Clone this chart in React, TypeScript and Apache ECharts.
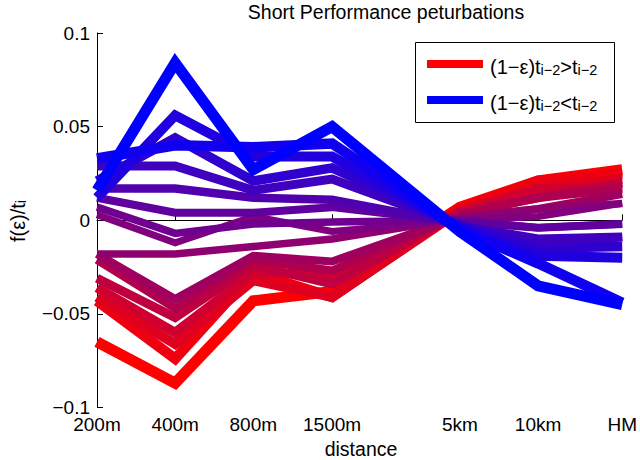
import React, { useEffect, useRef } from 'react';
import * as echarts from 'echarts';

// x categories (distance) and their lengths in metres (axis is log2 of distance)
const DISTANCE_LABELS = ['200m', '400m', '800m', '1500m', '5km', '10km', 'HM'];
const DISTANCE_METERS = [200, 400, 800, 1609, 5000, 10000, 21097.5];

// y axis
const Y_MIN = -0.1;
const Y_MAX = 0.1;
const Y_STEP = 0.05;

// perturbation curves, ordered from blue (1-e)t<t to red (1-e)t>t
// values at: 200m, 400m, 800m, 1500m, 5km, 10km, HM
const line01 = [0.016, 0.084, 0.027, 0.050, -0.006, -0.035, -0.045];
const line02 = [0.033, 0.040, 0.039, 0.041, -0.005, -0.023, -0.044];
const line03 = [0.012, 0.056, 0.034, 0.034, -0.004, -0.019, -0.020];
const line04 = [0.021, 0.044, 0.021, 0.028, -0.003, -0.015, -0.014];
const line05 = [0.029, 0.029, 0.016, 0.022, -0.003, -0.010, -0.009];
const line06 = [0.017, 0.017, 0.012, 0.011, -0.002, -0.014, -0.009];
const line07 = [0.012, 0.004, 0.004, 0.007, -0.001, -0.004, -0.002];
const line08 = [0.007, -0.007, -0.002, -0.001, 0.000, -0.004, -0.002];
const line09 = [0.003, -0.012, 0.002, -0.006, 0.000, 0.002, 0.009];
const line10 = [-0.018, -0.018, -0.014, -0.010, 0.001, 0.006, 0.009];
const line11 = [-0.018, -0.042, -0.019, -0.022, 0.002, 0.006, 0.014];
const line12 = [-0.021, -0.047, -0.021, -0.027, 0.003, 0.012, 0.017];
const line13 = [-0.031, -0.052, -0.024, -0.034, 0.004, 0.012, 0.020];
const line14 = [-0.036, -0.060, -0.028, -0.029, 0.004, 0.017, 0.017];
const line15 = [-0.041, -0.066, -0.032, -0.041, 0.005, 0.017, 0.022];
const line16 = [-0.043, -0.074, -0.028, -0.041, 0.006, 0.021, 0.025];
const line17 = [-0.065, -0.087, -0.043, -0.038, 0.007, 0.021, 0.027];

const LINES = [
  line01, line02, line03, line04, line05, line06, line07, line08, line09,
  line10, line11, line12, line13, line14, line15, line16, line17,
];

const TITLE = 'Short Performance peturbations';
const X_NAME = 'distance';

const FONT = '"Liberation Sans", Arial, Helvetica, sans-serif';

export default function App() {
  const ref = useRef<HTMLDivElement>(null);

  useEffect(() => {
    if (!ref.current) return;
    const chart = echarts.init(ref.current, null, { renderer: 'svg' });
    const xPos = DISTANCE_METERS.map((d) => Math.log2(d / DISTANCE_METERS[0]));
    const n = LINES.length;

    const series = LINES.map((vals, i) => {
      const t = i / (n - 1);
      const r = Math.round(255 * t);
      const b = Math.round(255 * (1 - t));
      return {
        type: 'line',
        data: vals.map((v, k) => [xPos[k], v]),
        symbol: 'none',
        silent: true,
        clip: true,
        lineStyle: {
          color: `rgb(${r},0,${b})`,
          width: 7 + 4 * Math.abs(2 * t - 1),
          join: 'miter',
          cap: 'butt',
        },
      };
    }).reverse();

    const richMain = { fontSize: 20, fontFamily: FONT, lineHeight: 20, verticalAlign: 'top' };
    const richSub = { fontSize: 14.5, fontFamily: FONT, lineHeight: 14, verticalAlign: 'bottom', padding: [8, 0, 0, 0] };

    const option = {
      animation: false,
      backgroundColor: '#fff',
      grid: { left: 97, right: 14.5, top: 33, bottom: 52.5, containLabel: false },
      xAxis: {
        type: 'value',
        min: 0,
        max: xPos[xPos.length - 1],
        axisLine: { show: true, lineStyle: { color: '#000', width: 1 } },
        axisTick: { show: true, inside: true, length: 6, customValues: xPos, lineStyle: { color: '#000' } },
        axisLabel: {
          customValues: xPos,
          color: '#000',
          fontSize: 19,
          lineHeight: 14,
          fontFamily: FONT,
          margin: 10,
          formatter: (v: number) => {
            const k = xPos.findIndex((p) => Math.abs(p - v) < 1e-6);
            return k >= 0 ? DISTANCE_LABELS[k] : '';
          },
        },
        splitLine: { show: false },
      },
      yAxis: {
        type: 'value',
        min: Y_MIN,
        max: Y_MAX,
        interval: Y_STEP,
        axisLine: { show: true, lineStyle: { color: '#000', width: 1 } },
        axisTick: { show: true, inside: true, length: 6, lineStyle: { color: '#000' } },
        axisLabel: {
          color: '#000',
          fontSize: 19,
          lineHeight: 14,
          fontFamily: FONT,
          margin: 7,
          formatter: (v: number) => {
            if (Math.abs(v) < 1e-9) return '0';
            return String(+v.toFixed(2)).replace('-', '\u2212');
          },
        },
        splitLine: { show: false },
      },
      series,
      graphic: [
        {
          type: 'text', x: 386, y: 12, z: 100,
          style: { text: TITLE, fontSize: 19.5, fontFamily: FONT, fill: '#000', align: 'center', verticalAlign: 'middle' },
        },
        {
          type: 'text', x: 361, y: 449, z: 100,
          style: { text: X_NAME, fontSize: 19.5, fontFamily: FONT, fill: '#000', align: 'center', verticalAlign: 'middle' },
        },
        {
          type: 'text', x: 18, y: 221, rotation: Math.PI / 2, z: 100,
          style: {
            text: '{m|f(\u03b5)/t}{s|i}', fill: '#000', align: 'center', verticalAlign: 'middle',
            rich: { m: richMain, s: richSub },
          },
        },
        {
          type: 'group', z: 100,
          children: [
            {
              type: 'rect', z: 100,
              shape: { x: 415.5, y: 42.5, width: 199, height: 80 },
              style: { fill: '#fff', stroke: '#000', lineWidth: 1 },
            },
            {
              type: 'line', z: 101,
              shape: { x1: 427, y1: 64, x2: 483, y2: 64 },
              style: { stroke: 'rgb(255,0,0)', lineWidth: 8 },
            },
            {
              type: 'line', z: 101,
              shape: { x1: 427, y1: 100, x2: 483, y2: 100 },
              style: { stroke: 'rgb(0,0,255)', lineWidth: 8 },
            },
            {
              type: 'text', x: 490, y: 67, z: 101,
              style: {
                text: '{m|(1\u2212\u03b5)t}{s|i\u22122}{m|>t}{s|i\u22122}', fill: '#000', align: 'left', verticalAlign: 'middle',
                rich: { m: richMain, s: richSub },
              },
            },
            {
              type: 'text', x: 490, y: 103, z: 101,
              style: {
                text: '{m|(1\u2212\u03b5)t}{s|i\u22122}{m|<t}{s|i\u22122}', fill: '#000', align: 'left', verticalAlign: 'middle',
                rich: { m: richMain, s: richSub },
              },
            },
          ],
        },
      ],
    };

    chart.setOption(option as any);
    return () => chart.dispose();
  }, []);

  return <div ref={ref} style={{ position: 'fixed', left: 0, top: 0, width: 640, height: 460 }} />;
}
